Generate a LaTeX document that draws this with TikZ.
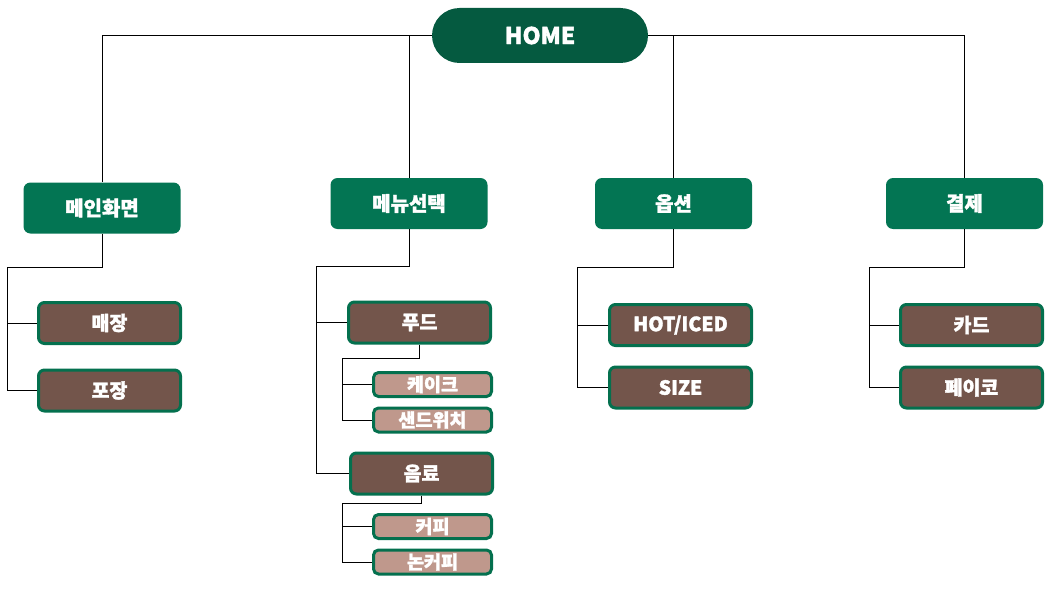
\documentclass[tikz,border=0pt]{standalone}
\usepackage{fontspec}
\setmainfont{Noto Sans CJK KR}[BoldFeatures={FakeBold=1.6}]
\usepackage{tikz}
\usetikzlibrary{shapes, positioning, calc}
\definecolor{homegreen}{RGB}{5, 90, 64}
\definecolor{menugreen}{RGB}{3, 117, 83}
\definecolor{edgegreen}{RGB}{4, 112, 78}
\definecolor{itembrown}{RGB}{115, 85, 75}
\definecolor{leafbrown}{RGB}{191, 152, 140}

\begin{document}
\begin{tikzpicture}[x=1pt, y=-1pt,
  menubox/.style={fill=menugreen, rounded corners=7pt, minimum width=157pt, minimum height=51pt, inner sep=0pt, text=white, font=\fontsize{20}{20}\selectfont\bfseries},
  itembox/.style={draw=edgegreen, line width=3pt, fill=itembrown, rounded corners=6pt, minimum width=142pt, minimum height=41pt, inner sep=0pt, text=white, font=\fontsize{19.5}{19.5}\selectfont\bfseries},
  leafbox/.style={draw=edgegreen, line width=3pt, fill=leafbrown, rounded corners=5pt, minimum width=118pt, minimum height=24pt, inner sep=0pt, text=white, font=\fontsize{18.5}{18.5}\selectfont\bfseries},
  link/.style={draw=black, line width=1pt}]
  \useasboundingbox (0,0) rectangle (1054,594);

  % Top
  \node[fill=homegreen, rounded rectangle, minimum width=216pt, minimum height=55pt, inner sep=0pt, text=white, font=\fontsize{23}{23}\selectfont\bfseries] (home) at (540, 35.5) {HOME};

  % Main menus
  \node[menubox] (main) at (102, 208) {메인화면};
  \node[menubox] (menu) at (409, 203.5) {메뉴선택};
  \node[menubox] (opt) at (673.5, 203.5) {옵션};
  \node[menubox] (pay) at (964.5, 203.5) {결제};

  \draw[link] (home.west) -| (main.north);
  \draw[link] (home.west) -| (menu.north);
  \draw[link] (home.east) -| (opt.north);
  \draw[link] (home.east) -| (pay.north);

  % Main screen
  \node[itembox] (store) at (109.5, 323) {매장};
  \node[itembox] (pack) at (109.5, 390.5) {포장};
  \coordinate (mainbus) at (7, 267);
  \draw[link] (main.south) |- (mainbus) |- (store.west);
  \draw[link] (mainbus) |- (pack.west);

  % Menu select
  \node[itembox] (food) at (419.5, 322.5) {푸드};
  \node[leafbox] (cake) at (432.5, 384.5) {케이크};
  \node[leafbox] (sand) at (432.5, 420) {샌드위치};
  \node[itembox] (drink) at (421.5, 473.5) {음료};
  \node[leafbox] (coffee) at (432.5, 526.5) {커피};
  \node[leafbox] (noncoffee) at (432.5, 562) {논커피};
  \coordinate (menubus) at (316, 266.5);
  \draw[link] (menu.south) |- (menubus) |- (food.west);
  \draw[link] (menubus) |- (drink.west);
  \coordinate (foodbus) at (342, 358);
  \draw[link] (food.south) |- (foodbus) |- (cake.west);
  \draw[link] (foodbus) |- (sand.west);
  \coordinate (drinkbus) at (342, 503);
  \draw[link] (drink.south) |- (drinkbus) |- (coffee.west);
  \draw[link] (drinkbus) |- (noncoffee.west);

  % Options
  \node[itembox] (temp) at (680.5, 325) {HOT/ICED};
  \node[itembox] (size) at (680.5, 387.5) {SIZE};
  \coordinate (optbus) at (577, 267);
  \draw[link] (opt.south) |- (optbus) |- (temp.west);
  \draw[link] (optbus) |- (size.west);

  % Payment
  \node[itembox] (card) at (971.5, 325) {카드};
  \node[itembox] (payco) at (971.5, 387.5) {페이코};
  \coordinate (paybus) at (869, 267);
  \draw[link] (pay.south) |- (paybus) |- (card.west);
  \draw[link] (paybus) |- (payco.west);
\end{tikzpicture}
\end{document}
